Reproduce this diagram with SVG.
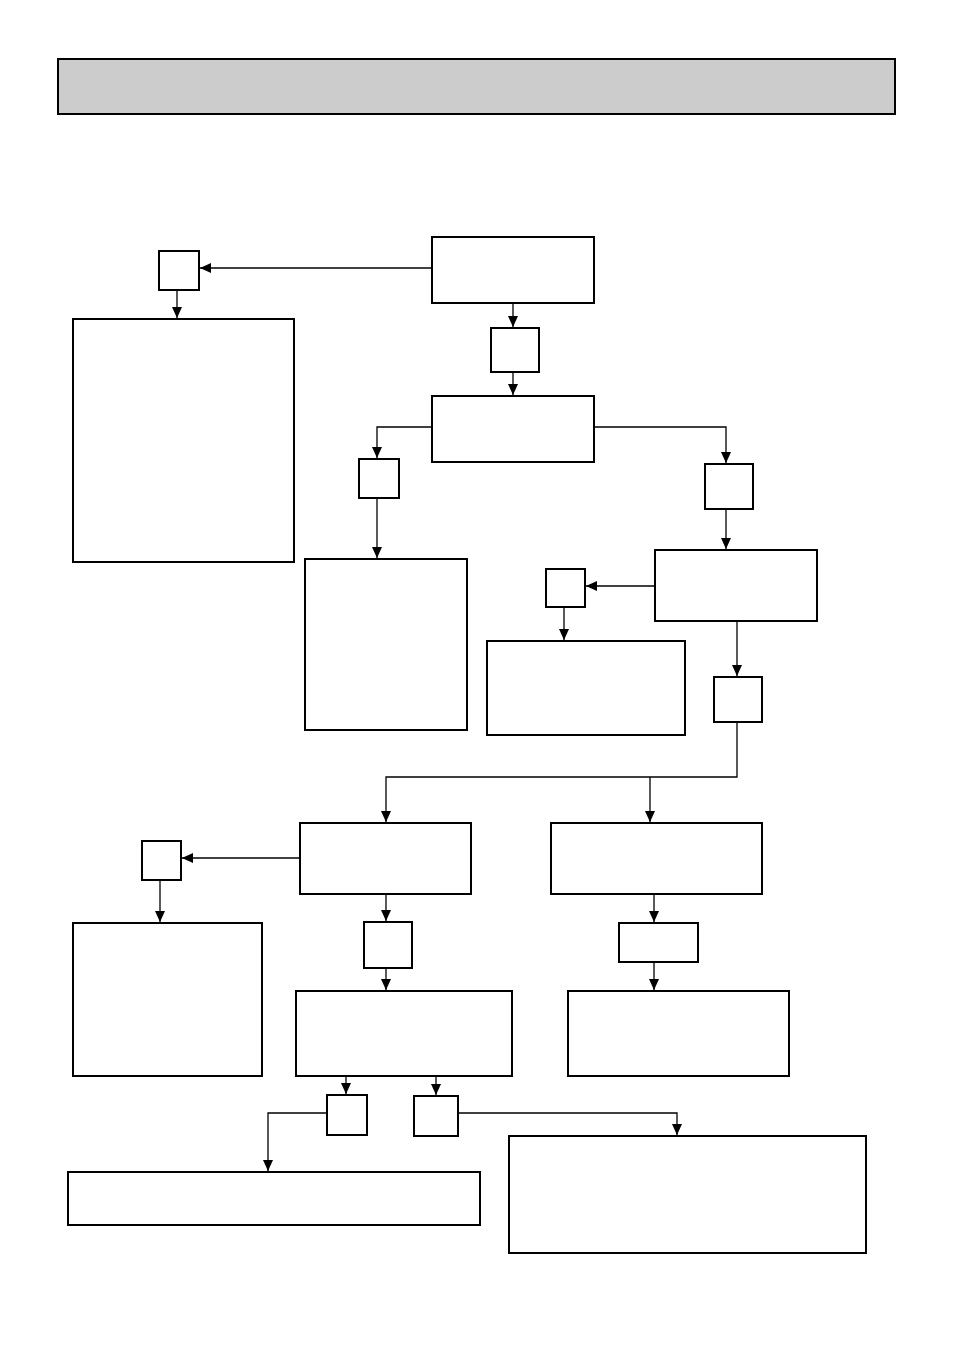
<svg xmlns="http://www.w3.org/2000/svg" width="954" height="1350" viewBox="0 0 954 1350">
<style>
.n{fill:#fff;stroke:#000;stroke-width:2}
.h{fill:#cccccc;stroke:#000;stroke-width:2}
.c{fill:none;stroke:#000;stroke-width:1.3}
</style>
<defs>
<marker id="ah" markerUnits="userSpaceOnUse" markerWidth="12" markerHeight="10" refX="11" refY="5" orient="auto">
<path d="M0,0 L11,5 L0,10 Z" fill="#000"/>
</marker>
</defs>
<rect width="954" height="1350" fill="#fff"/>
<g id="header"><rect class="h" x="58" y="59" width="837" height="55"/></g>
<g id="nA"><rect class="n" x="432" y="237" width="162" height="66"/></g>
<g id="na1"><rect class="n" x="159" y="251" width="40" height="39"/></g>
<g id="nL1"><rect class="n" x="73" y="319" width="221" height="243"/></g>
<g id="na2"><rect class="n" x="491" y="328" width="48" height="44"/></g>
<g id="nB"><rect class="n" x="432" y="396" width="162" height="66"/></g>
<g id="nb1"><rect class="n" x="359" y="459" width="40" height="39"/></g>
<g id="nC"><rect class="n" x="305" y="559" width="162" height="171"/></g>
<g id="nb2"><rect class="n" x="705" y="464" width="48" height="45"/></g>
<g id="nD"><rect class="n" x="655" y="550" width="162" height="71"/></g>
<g id="nc1"><rect class="n" x="546" y="569" width="39" height="38"/></g>
<g id="nE"><rect class="n" x="487" y="641" width="198" height="94"/></g>
<g id="nd1"><rect class="n" x="714" y="677" width="48" height="45"/></g>
<g id="nF"><rect class="n" x="300" y="823" width="171" height="71"/></g>
<g id="nG"><rect class="n" x="551" y="823" width="211" height="71"/></g>
<g id="nf1"><rect class="n" x="142" y="841" width="39" height="39"/></g>
<g id="nH"><rect class="n" x="73" y="923" width="189" height="153"/></g>
<g id="nf2"><rect class="n" x="364" y="922" width="48" height="46"/></g>
<g id="nI"><rect class="n" x="296" y="991" width="216" height="85"/></g>
<g id="ng1"><rect class="n" x="619" y="923" width="79" height="39"/></g>
<g id="nJ"><rect class="n" x="568" y="991" width="221" height="85"/></g>
<g id="ni1"><rect class="n" x="327" y="1095" width="40" height="40"/></g>
<g id="ni2"><rect class="n" x="414" y="1096" width="44" height="40"/></g>
<g id="nK"><rect class="n" x="68" y="1172" width="412" height="53"/></g>
<g id="nL"><rect class="n" x="509" y="1136" width="357" height="117"/></g>
<g id="connectors">
<path class="c" d="M432,268 H200" marker-end="url(#ah)"/>
<path class="c" d="M177,290 V318" marker-end="url(#ah)"/>
<path class="c" d="M513,303 V327" marker-end="url(#ah)"/>
<path class="c" d="M513,372 V395" marker-end="url(#ah)"/>
<path class="c" d="M432,427 H377 V458" marker-end="url(#ah)"/>
<path class="c" d="M377,498 V558" marker-end="url(#ah)"/>
<path class="c" d="M594,427 H726 V463" marker-end="url(#ah)"/>
<path class="c" d="M726,509 V549" marker-end="url(#ah)"/>
<path class="c" d="M655,586 H586" marker-end="url(#ah)"/>
<path class="c" d="M564,607 V640" marker-end="url(#ah)"/>
<path class="c" d="M737,621 V676" marker-end="url(#ah)"/>
<path class="c" d="M737,722 V777 H386 V822" marker-end="url(#ah)"/>
<path class="c" d="M650,777 V822" marker-end="url(#ah)"/>
<path class="c" d="M300,858 H182" marker-end="url(#ah)"/>
<path class="c" d="M160,880 V922" marker-end="url(#ah)"/>
<path class="c" d="M386,894 V921" marker-end="url(#ah)"/>
<path class="c" d="M386,968 V990" marker-end="url(#ah)"/>
<path class="c" d="M654,894 V922" marker-end="url(#ah)"/>
<path class="c" d="M654,962 V990" marker-end="url(#ah)"/>
<path class="c" d="M346,1076 V1094" marker-end="url(#ah)"/>
<path class="c" d="M436,1076 V1095" marker-end="url(#ah)"/>
<path class="c" d="M327,1113 H268 V1171" marker-end="url(#ah)"/>
<path class="c" d="M458,1113 H677 V1135" marker-end="url(#ah)"/>
</g>
</svg>
